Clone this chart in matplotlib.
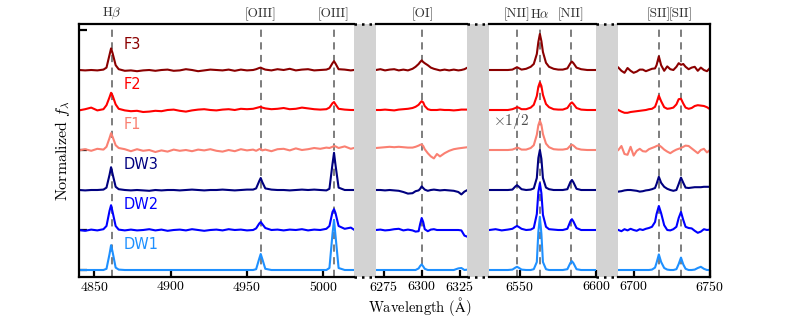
import numpy as np
import matplotlib
matplotlib.use('Agg')
import matplotlib.pyplot as plt
from matplotlib.patches import Rectangle
from matplotlib.lines import Line2D
from matplotlib.transforms import blended_transform_factory

plt.rcParams['font.family'] = 'serif'
plt.rcParams['font.serif'] = ['cmr10']
plt.rcParams['mathtext.fontset'] = 'cm'
plt.rcParams['axes.formatter.use_mathtext'] = True

# --- data -------------------------------------------------------------------
names = ['F3', 'F2', 'F1', 'DW3', 'DW2', 'DW1']
colors = ['darkred', 'red', 'salmon', 'navy', 'blue', 'dodgerblue']
offsets = [5, 4, 3, 2, 1, 0]

panel_ranges = [(4840, 5020), (6270, 6330), (6530, 6600), (6690, 6750)]
panel_ticks = [[4850, 4900, 4950, 5000], [6275, 6300, 6325], [6550, 6600], [6700, 6750]]

line_waves = [4861.3, 4958.9, 5006.8, 6300.3, 6548.0, 6562.8, 6583.5, 6716.4, 6730.8]
line_names = [r'H$\beta$', '[OIII]', '[OIII]', '[OI]', '[NII]', r'H$\alpha$', '[NII]', '[SII]', '[SII]']

# panel 1: Hbeta / [OIII]
wave_hb = [4840, 4844, 4848, 4852, 4856, 4858, 4860, 4861, 4862, 4864,
           4866, 4870, 4874, 4878, 4882, 4886, 4890, 4894, 4898, 4902,
           4906, 4910, 4914, 4918, 4922, 4926, 4930, 4934, 4938, 4942,
           4946, 4950, 4954, 4956, 4958, 4959, 4960, 4962, 4966, 4970,
           4974, 4978, 4982, 4986, 4990, 4994, 4998, 5002, 5004, 5006,
           5007, 5008, 5010, 5014, 5018, 5020]
f3_hb = [1.00, 0.99, 1.00, 0.99, 1.01, 1.06, 1.38, 1.54, 1.42, 1.12,
         1.02, 0.98, 0.99, 0.97, 0.99, 1.00, 0.98, 1.00, 1.01, 0.98,
         0.99, 1.02, 1.00, 0.97, 0.99, 1.01, 1.00, 0.99, 1.01, 0.98,
         1.01, 0.99, 1.00, 1.02, 1.05, 1.06, 1.04, 1.01, 0.99, 1.02,
         1.00, 1.03, 0.99, 1.01, 1.02, 0.99, 1.00, 1.01, 1.04, 1.17,
         1.22, 1.16, 1.02, 1.01, 0.99, 1.00]
f2_hb = [0.99, 1.02, 1.06, 0.99, 1.02, 1.12, 1.32, 1.43, 1.36, 1.14,
         1.03, 0.99, 0.97, 0.98, 0.95, 0.96, 0.98, 0.97, 1.00, 1.01,
         0.98, 0.96, 0.99, 1.01, 1.02, 1.00, 0.99, 1.01, 1.02, 1.00,
         1.03, 1.02, 1.03, 1.05, 1.07, 1.08, 1.06, 1.04, 1.02, 1.03,
         1.05, 1.02, 1.03, 1.06, 1.04, 1.02, 1.01, 1.02, 1.06, 1.17,
         1.20, 1.14, 1.03, 1.01, 1.00, 1.00]
f1_hb = [0.99, 1.02, 0.98, 1.03, 1.01, 1.08, 1.30, 1.42, 1.33, 1.12,
         1.05, 1.02, 0.97, 1.02, 0.98, 1.00, 0.95, 0.99, 0.96, 1.01,
         0.98, 1.00, 0.97, 1.01, 0.99, 1.02, 0.98, 0.96, 1.00, 0.97,
         1.02, 0.99, 1.01, 0.98, 1.02, 1.03, 0.99, 1.01, 0.97, 1.02,
         1.03, 0.99, 1.04, 1.00, 1.02, 1.05, 1.03, 1.06, 1.05, 1.08,
         1.10, 1.09, 1.05, 1.09, 1.03, 1.05]
dw3_hb = [1.00, 0.99, 1.00, 1.00, 1.01, 1.06, 1.38, 1.57, 1.40, 1.08,
          1.02, 1.00, 0.99, 1.00, 0.99, 0.98, 1.00, 0.99, 1.00, 1.00,
          0.99, 1.00, 1.01, 1.00, 0.99, 1.00, 1.00, 1.01, 1.00, 0.99,
          1.00, 1.01, 1.01, 1.04, 1.22, 1.30, 1.20, 1.04, 1.01, 1.00,
          1.00, 0.99, 1.00, 1.01, 1.00, 1.01, 1.00, 0.99, 1.03, 1.65,
          1.93, 1.62, 1.06, 1.00, 1.00, 1.00]
dw2_hb = [1.00, 0.98, 1.01, 0.99, 1.02, 1.10, 1.48, 1.62, 1.45, 1.10,
          1.01, 0.99, 1.01, 0.99, 1.00, 1.02, 0.99, 1.01, 0.98, 1.00,
          1.01, 0.99, 1.02, 1.00, 0.98, 1.00, 1.01, 0.99, 1.02, 1.00,
          1.01, 0.99, 1.00, 1.04, 1.16, 1.20, 1.15, 1.05, 1.00, 1.01,
          0.99, 1.01, 1.00, 1.02, 0.99, 1.01, 1.00, 1.03, 1.10, 1.45,
          1.52, 1.42, 1.10, 1.03, 1.06, 1.01]
dw1_hb = [1.00, 1.00, 1.00, 1.00, 1.00, 1.03, 1.40, 1.62, 1.45, 1.06,
          1.01, 1.00, 1.00, 1.00, 1.00, 1.00, 1.00, 1.00, 1.00, 1.00,
          1.00, 1.00, 1.00, 1.00, 1.00, 1.00, 1.00, 1.00, 1.00, 1.00,
          1.00, 1.00, 1.00, 1.02, 1.28, 1.40, 1.28, 1.03, 1.00, 1.00,
          1.00, 1.00, 1.00, 1.00, 1.00, 1.00, 1.00, 1.00, 1.05, 1.90,
          2.25, 1.85, 1.05, 1.00, 1.00, 1.00]

# panel 2: [OI]
wave_oi = [6270, 6273, 6276, 6279, 6282, 6285, 6288, 6291, 6294, 6296,
           6298, 6299, 6300, 6301, 6302, 6304, 6306, 6308, 6310, 6312,
           6315, 6318, 6321, 6324, 6326, 6328, 6330]
f3_oi = [1.00, 1.02, 0.99, 1.01, 1.02, 0.99, 1.01, 0.99, 1.03, 1.08,
         1.15, 1.20, 1.24, 1.20, 1.17, 1.12, 1.06, 1.03, 1.01, 0.99,
         1.01, 0.99, 1.01, 0.99, 1.00, 1.02, 1.06]
f2_oi = [1.00, 1.00, 1.01, 1.00, 0.99, 1.01, 1.02, 1.03, 1.05, 1.08,
         1.13, 1.18, 1.22, 1.19, 1.10, 1.02, 1.00, 1.00, 1.00, 1.01,
         1.00, 1.00, 0.99, 1.00, 1.01, 1.01, 1.01]
f1_oi = [1.05, 1.06, 1.07, 1.08, 1.07, 1.08, 1.07, 1.06, 1.06, 1.08,
         1.11, 1.13, 1.14, 1.10, 1.02, 0.92, 0.84, 0.79, 0.90, 0.84,
         0.92, 0.98, 1.02, 1.04, 1.05, 1.06, 1.07]
dw3_oi = [1.00, 1.00, 0.99, 1.00, 0.99, 0.98, 0.95, 0.91, 0.92, 0.97,
          0.99, 1.03, 1.09, 1.05, 1.01, 0.98, 1.00, 1.01, 1.00, 0.99,
          1.00, 0.99, 0.98, 0.95, 0.89, 0.96, 1.00]
dw2_oi = [1.00, 1.01, 0.99, 1.00, 1.02, 1.03, 0.99, 1.01, 0.99, 0.96,
          0.97, 1.15, 1.30, 1.20, 1.02, 0.97, 1.01, 1.02, 1.00, 1.00,
          1.00, 1.00, 1.00, 1.00, 0.99, 0.86, 0.83]
dw1_oi = [1.00, 1.00, 1.00, 1.00, 1.00, 1.00, 1.00, 1.00, 1.00, 1.00,
          1.04, 1.10, 1.14, 1.09, 1.03, 1.00, 1.00, 1.00, 1.00, 1.00,
          1.00, 1.00, 1.00, 1.04, 1.05, 1.00, 1.01]

# panel 3: Halpha / [NII]
wave_ha = [6530, 6534, 6538, 6542, 6545, 6547, 6548, 6549, 6551, 6554,
           6557, 6559, 6561, 6562, 6563, 6564, 6565, 6567, 6569, 6572,
           6575, 6578, 6581, 6583, 6584, 6585, 6587, 6590, 6594, 6597,
           6600]
f3_ha = [1.00, 1.00, 1.00, 1.00, 1.01, 1.05, 1.07, 1.05, 1.01, 1.03,
         1.08, 1.15, 1.40, 1.70, 1.90, 1.72, 1.45, 1.18, 1.08, 1.03,
         1.01, 1.01, 1.04, 1.17, 1.21, 1.17, 1.06, 1.02, 1.00, 1.00,
         1.00]
f2_ha = [1.00, 1.00, 1.00, 1.00, 1.02, 1.05, 1.07, 1.06, 1.02, 1.02,
         1.06, 1.13, 1.35, 1.58, 1.69, 1.60, 1.38, 1.15, 1.07, 1.02,
         1.01, 1.01, 1.05, 1.16, 1.19, 1.15, 1.05, 1.01, 1.00, 1.00,
         1.00]
f1_ha = [1.00, 1.00, 1.00, 1.00, 1.01, 1.04, 1.06, 1.05, 1.01, 1.01,
         1.05, 1.12, 1.38, 1.62, 1.73, 1.63, 1.40, 1.16, 1.07, 1.02,
         1.01, 1.01, 1.03, 1.11, 1.13, 1.11, 1.04, 1.01, 1.00, 1.00,
         1.00]
dw3_ha = [1.00, 1.00, 1.00, 1.00, 1.01, 1.09, 1.12, 1.09, 1.02, 1.00,
          1.01, 1.04, 1.30, 1.80, 2.00, 1.78, 1.30, 1.06, 1.02, 1.00,
          1.00, 1.00, 1.02, 1.20, 1.25, 1.19, 1.03, 1.00, 1.00, 1.00,
          1.00]
dw2_ha = [1.00, 1.02, 0.99, 1.01, 1.03, 1.08, 1.10, 1.08, 1.03, 1.00,
          1.01, 1.05, 1.40, 1.95, 2.17, 1.92, 1.38, 1.08, 1.02, 1.01,
          1.00, 1.00, 1.03, 1.22, 1.27, 1.21, 1.05, 1.00, 1.00, 1.00,
          1.00]
dw1_ha = [1.00, 1.00, 1.00, 1.00, 1.01, 1.06, 1.08, 1.06, 1.01, 1.00,
          1.00, 1.02, 1.20, 1.95, 2.33, 1.90, 1.20, 1.02, 1.00, 1.00,
          1.00, 1.00, 1.02, 1.18, 1.22, 1.17, 1.02, 1.00, 1.00, 1.00,
          1.00]

# panel 4: [SII]
wave_sii = [6690, 6692, 6694, 6696, 6698, 6700, 6702, 6704, 6706, 6708,
            6710, 6712, 6714, 6715, 6716.5, 6718, 6720, 6722, 6724, 6726,
            6728, 6729.5, 6731, 6732.5, 6734, 6736, 6738, 6740, 6742, 6744,
            6746, 6748, 6750]
f3_sii = [1.06, 0.98, 0.93, 1.05, 0.98, 0.93, 0.96, 1.01, 1.01, 0.97,
          1.00, 1.03, 1.04, 1.12, 1.34, 1.12, 0.98, 1.09, 1.02, 1.00,
          1.08, 1.17, 1.13, 1.15, 1.08, 1.02, 1.06, 1.08, 0.98, 1.06,
          1.00, 0.97, 1.05]
f2_sii = [1.00, 0.96, 0.93, 0.93, 0.95, 0.96, 0.97, 0.98, 0.99, 1.00,
          1.02, 1.03, 1.08, 1.18, 1.36, 1.22, 1.07, 1.03, 1.04, 1.06,
          1.14, 1.27, 1.28, 1.16, 1.06, 1.03, 1.05, 1.10, 1.12, 1.11,
          1.10, 1.07, 1.02]
f1_sii = [1.00, 1.10, 0.90, 0.88, 1.08, 0.86, 0.98, 1.03, 0.97, 0.96,
          1.02, 1.05, 1.08, 1.10, 1.12, 1.08, 1.01, 0.96, 0.92, 0.97,
          1.01, 1.03, 1.05, 1.08, 1.11, 1.10, 1.04, 0.98, 0.92, 1.00,
          1.03, 0.94, 1.00]
dw3_sii = [0.96, 0.97, 0.99, 1.00, 1.00, 0.99, 0.98, 0.96, 0.97, 0.99,
           1.00, 1.02, 1.05, 1.15, 1.33, 1.18, 1.08, 1.03, 1.00, 0.98,
           1.00, 1.15, 1.31, 1.18, 1.06, 1.05, 1.06, 1.07, 1.07, 1.07,
           1.08, 1.08, 1.08]
dw2_sii = [1.00, 0.97, 1.02, 0.99, 1.03, 1.00, 0.98, 1.02, 1.00, 1.03,
           1.05, 1.08, 1.20, 1.40, 1.60, 1.42, 1.12, 1.00, 0.99, 1.02,
           1.08, 1.30, 1.45, 1.25, 1.08, 1.05, 1.04, 0.98, 0.93, 0.96,
           1.02, 1.00, 1.01]
dw1_sii = [1.00, 1.00, 1.00, 1.00, 1.00, 1.00, 1.00, 1.00, 1.00, 1.00,
           1.00, 1.01, 1.06, 1.18, 1.39, 1.20, 1.05, 1.01, 1.00, 1.00,
           1.02, 1.15, 1.31, 1.14, 1.03, 1.00, 1.00, 1.01, 1.05, 1.08,
           1.03, 1.00, 1.00]

waves = [wave_hb, wave_oi, wave_ha, wave_sii]
spectra = [
    [f3_hb, f3_oi, f3_ha, f3_sii],
    [f2_hb, f2_oi, f2_ha, f2_sii],
    [f1_hb, f1_oi, f1_ha, f1_sii],
    [dw3_hb, dw3_oi, dw3_ha, dw3_sii],
    [dw2_hb, dw2_oi, dw2_ha, dw2_sii],
    [dw1_hb, dw1_oi, dw1_ha, dw1_sii],
]

# --- layout (pixels) --------------------------------------------------------
W, H = 789, 316
left_px, gap_px = 79, 22
bottom_px, height_px = 39, 253
scale = (710 - left_px - 3 * gap_px) / sum(hi - lo for lo, hi in panel_ranges)

fig = plt.figure(figsize=(W / 100, H / 100), dpi=100)

axes = []
x0 = left_px
for i, (lo, hi) in enumerate(panel_ranges):
    w = (hi - lo) * scale
    ax = fig.add_axes([x0 / W, bottom_px / H, w / W, height_px / H])
    ax.set_xlim(lo, hi)
    ax.set_ylim(-0.175, 6.15)

    for wl, name in zip(line_waves, line_names):
        if lo <= wl <= hi:
            ax.axvline(wl, color='0.45', ls=(0, (4, 3)), lw=1.3, zorder=1)
            ax.text(wl, 1.01, name, transform=blended_transform_factory(ax.transData, ax.transAxes),
                    ha='center', va='bottom', fontsize=9.5, color='0.2')

    for spec, col, off in zip(spectra, colors, offsets):
        ax.plot(waves[i], np.array(spec[i]) - 1 + off, color=col, lw=1.5, zorder=2)

    for sp in ax.spines.values():
        sp.set_linewidth(1.6)
    ax.spines['left'].set_visible(i == 0)
    ax.spines['right'].set_visible(i == len(panel_ranges) - 1)

    ax.set_xticks(panel_ticks[i])
    ax.tick_params(axis='x', direction='in', length=5, width=1.6, labelsize=10, pad=2)
    if i == 0:
        ax.set_yticks([0, 1, 3, 6])
        ax.tick_params(axis='y', direction='in', length=6, width=1.6, labelleft=False)
    else:
        ax.set_yticks([])
    axes.append(ax)

    if i < len(panel_ranges) - 1:
        gx = x0 + w
        fig.add_artist(Rectangle((gx / W, bottom_px / H), gap_px / W, height_px / H,
                                 transform=fig.transFigure, facecolor='lightgrey',
                                 edgecolor='none', zorder=0))
        for yy in (bottom_px, bottom_px + height_px):
            fig.add_artist(Line2D([gx / W, (gx + gap_px) / W], [yy / H, yy / H],
                                  transform=fig.transFigure, color='black', lw=1.8,
                                  ls=(0, (1, 2))))
    x0 += w + gap_px

for name, col, off in zip(names, colors, offsets):
    axes[0].text(4869.5, off + 0.63, name, color=col, fontsize=10.5,
                 family='DejaVu Sans', va='center', ha='left')

axes[2].text(6532.5, 3.72, r'$\times 1/2$', fontsize=11, color='0.3', va='center', ha='left')

fig.text(63 / W, 1 - 150.5 / H, r'Normalized $f_\lambda$', rotation=90,
         ha='center', va='center', fontsize=11.5)
fig.text(420 / W, 1 - 306 / H, r'Wavelength ($\mathrm{\AA}$)', ha='center', va='center', fontsize=10.5)

fig.savefig('out.png', dpi=100)
